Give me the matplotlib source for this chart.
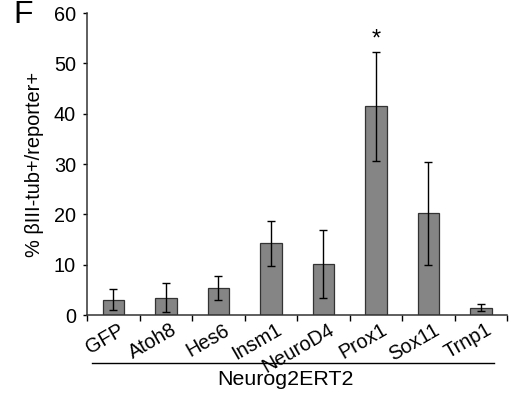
import matplotlib.pyplot as plt
import numpy as np

plt.rcParams['font.family'] = ['Liberation Sans', 'DejaVu Sans']

# data
genes = ['GFP', 'Atoh8', 'Hes6', 'Insm1', 'NeuroD4', 'Prox1', 'Sox11', 'Trnp1']
pct = [3.1, 3.5, 5.4, 14.3, 10.2, 41.5, 20.2, 1.5]
err = [2.1, 2.9, 2.3, 4.5, 6.8, 10.8, 10.3, 0.7]
signif = [False, False, False, False, False, True, False, False]

fig = plt.figure(figsize=(5.18, 3.94), dpi=100)
ax = fig.add_axes([0.168, 0.200, 0.811, 0.767])

x = np.arange(len(genes))
ax.bar(x, pct, width=0.41, color='#858585', edgecolor='#333333', linewidth=0.9,
       yerr=err, error_kw=dict(ecolor='black', elinewidth=1.0, capsize=3, capthick=1.0))

for xi, v, e, s in zip(x, pct, err, signif):
    if s:
        ax.text(xi, v + e + 0.3, '*', ha='center', va='bottom', fontsize=17)

ax.set_xlim(-0.5, len(genes) - 0.5)
ax.set_ylim(0, 60)
ax.set_yticks(range(0, 61, 10))
ax.tick_params(axis='y', labelsize=14.3, length=3, width=1, pad=5)

# category ticks sit between bars, labels centred under bars
ax.set_xticks(np.arange(len(genes) + 1) - 0.5)
ax.set_xticklabels([])
ax.tick_params(axis='x', length=4, width=1)
for xi, g in zip(x, genes):
    ax.annotate(g, xy=(xi, 0), xycoords=('data', 'axes fraction'),
                xytext=(3.6, -3.6), textcoords='offset points',
                rotation=30, ha='right', va='top', rotation_mode='anchor', fontsize=14.3)

for side in ['top', 'right']:
    ax.spines[side].set_visible(False)
for side in ['left', 'bottom']:
    ax.spines[side].set_linewidth(1.1)
    ax.spines[side].set_color('#333333')

ax.set_ylabel('% \u03b2III-tub+/reporter+', fontsize=14.4, labelpad=7)

# group line and label
fig.add_artist(plt.Line2D([92 / 518, 494 / 518], [1 - 363 / 394] * 2, color='black', linewidth=1))
fig.text(285.5 / 518, 1 - 385 / 394, 'Neurog2ERT2', ha='center', va='baseline', fontsize=15.4)

fig.text(23 / 518, 1 - 15 / 394, 'F', ha='center', va='center', fontsize=23)

fig.savefig('out.png', dpi=100)
